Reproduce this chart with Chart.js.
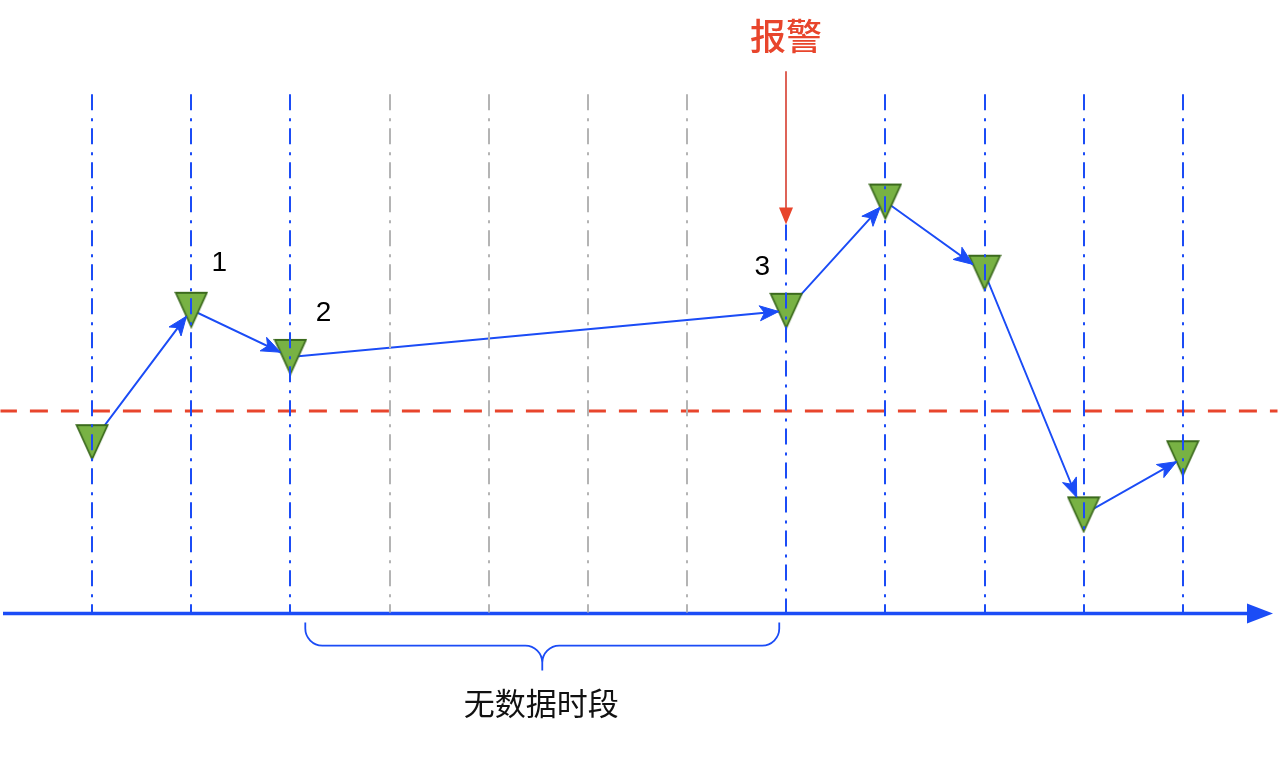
<!DOCTYPE html>
<html>
<head>
<meta charset="utf-8">
<script src="https://cdn.jsdelivr.net/npm/chart.js@4/dist/chart.umd.min.js"></script>
<style>
  html, body { margin: 0; padding: 0; background: #ffffff; }
  #wrap { width: 1278px; height: 766px; }
</style>
</head>
<body>
<div id="wrap"><canvas id="c" width="1278" height="766"></canvas></div>
<script>
// ---- data ----
const slots = [0, 1, 2, 3, 4, 5, 6, 7, 8, 9, 10, 11];
const slotHasData = [true, true, true, false, false, false, false, true, true, true, true, true];
const sampleSlots = [0, 1, 2, 7, 8, 9, 10, 11];
const sampleValues = [17.1, 30.3, 25.6, 30.2, 41.1, 34.0, 9.9, 15.5];
const sampleLabels = ['', '1', '2', '3', '', '', '', ''];
const thresholdValue = 20.2;
const alarmSlot = 7;
const gapRange = [2.15, 6.93];
const alarmText = '报警';
const gapText = '无数据时段';

// ---- styles ----
const BLUE = '#1b4cf6';
const GRAY = '#b4b4b4';
const RED = '#e8452c';
const GREEN_FILL = '#78b244';
const GREEN_STROKE = '#3b6a1d';

function makeTriangle() {
  const cv = document.createElement('canvas');
  cv.width = 34; cv.height = 38;
  const g = cv.getContext('2d');
  g.beginPath();
  g.moveTo(1.5, 2);
  g.lineTo(32.5, 2);
  g.lineTo(17, 36);
  g.closePath();
  g.fillStyle = GREEN_FILL;
  g.fill();
  g.lineWidth = 1.8;
  g.strokeStyle = GREEN_STROKE;
  g.lineJoin = 'miter';
  g.stroke();
  return cv;
}
const triImg = makeTriangle();

const points = sampleSlots.map((s, i) => ({ x: s, y: sampleValues[i] }));

function arrowHead(ctx, tx, ty, dx, dy, len, half, color) {
  const nx = -dy, ny = dx;
  const bx = tx - dx * len, by = ty - dy * len;
  const mx = tx - dx * len * 0.75, my = ty - dy * len * 0.75;
  ctx.beginPath();
  ctx.moveTo(tx, ty);
  ctx.lineTo(bx + nx * half, by + ny * half);
  ctx.lineTo(mx, my);
  ctx.lineTo(bx - nx * half, by - ny * half);
  ctx.closePath();
  ctx.fillStyle = color;
  ctx.fill();
  ctx.lineWidth = 1;
  ctx.strokeStyle = color;
  ctx.stroke();
}

// intersection of ray P - t*d with triangle around P (top half 17, half width 15.5)
function triHit(cx, cy, dx, dy) {
  const A = [cx - 15.5, cy - 17], B = [cx + 15.5, cy - 17], C = [cx, cy + 17];
  const edges = [[A, B], [B, C], [C, A]];
  let best = Infinity;
  const rx = -dx, ry = -dy;
  for (const [p, q] of edges) {
    const ex = q[0] - p[0], ey = q[1] - p[1];
    const den = rx * ey - ry * ex;
    if (Math.abs(den) < 1e-9) continue;
    const wx = p[0] - cx, wy = p[1] - cy;
    const t = (wx * ey - wy * ex) / den;
    const u = (wx * ry - wy * rx) / den;
    if (t > 0 && u >= -1e-6 && u <= 1 + 1e-6 && t < best) best = t;
  }
  return [cx + rx * best, cy + ry * best];
}

const decor = {
  id: 'decor',
  beforeDatasetsDraw(chart) {
    const ctx = chart.ctx;
    const ys = chart.scales.y;
    // axis line with arrow
    const y0 = ys.getPixelForValue(0);
    ctx.save();
    ctx.strokeStyle = BLUE;
    ctx.lineWidth = 3.5;
    ctx.beginPath();
    ctx.moveTo(3, y0);
    ctx.lineTo(1250, y0);
    ctx.stroke();
    ctx.beginPath();
    ctx.moveTo(1273, y0);
    ctx.lineTo(1247, y0 - 10);
    ctx.lineTo(1247, y0 + 10);
    ctx.closePath();
    ctx.fillStyle = BLUE;
    ctx.fill();
    ctx.restore();
  },
  afterDatasetsDraw(chart) {
    const ctx = chart.ctx;
    const xs = chart.scales.x, ys = chart.scales.y;
    const y0 = ys.getPixelForValue(0);
    ctx.save();
    // vertical slot lines (dash-dot)
    ctx.lineWidth = 2;
    ctx.setLineDash([16, 8, 3, 7]);
    slots.forEach((s, i) => {
      const px = Math.round(xs.getPixelForValue(s));
      const top = s === alarmSlot ? ys.getPixelForValue(38.8) : ys.getPixelForValue(51.8);
      ctx.strokeStyle = slotHasData[i] ? BLUE : GRAY;
      ctx.beginPath();
      ctx.moveTo(px, top);
      ctx.lineTo(px, y0 - 1);
      ctx.stroke();
    });
    ctx.setLineDash([]);

    // arrowheads on connectors
    const meta = chart.getDatasetMeta(1);
    for (let i = 1; i < meta.data.length; i++) {
      const a = meta.data[i - 1], b = meta.data[i];
      let dx = b.x - a.x, dy = b.y - a.y;
      const L = Math.hypot(dx, dy);
      dx /= L; dy /= L;
      const [tx, ty] = triHit(b.x, b.y, dx, dy);
      arrowHead(ctx, tx, ty, dx, dy, 19, 7.5, BLUE);
    }

    // sample labels
    const offs = { '1': [28, -47], '2': [33, -44], '3': [-24, -44] };
    ctx.fillStyle = '#000000';
    ctx.font = '28px "Liberation Sans", Arial, sans-serif';
    ctx.textAlign = 'center';
    ctx.textBaseline = 'middle';
    meta.data.forEach((el, i) => {
      const lab = sampleLabels[i];
      if (!lab) return;
      const o = offs[lab] || [0, -40];
      ctx.fillText(lab, el.x + o[0], el.y + o[1]);
    });

    // alarm arrow and text
    const ax = Math.round(xs.getPixelForValue(alarmSlot));
    const aTop = ys.getPixelForValue(54.1), aTip = ys.getPixelForValue(38.8);
    ctx.strokeStyle = '#d9483a';
    ctx.lineWidth = 1.7;
    ctx.beginPath();
    ctx.moveTo(ax, aTop);
    ctx.lineTo(ax, aTip - 12);
    ctx.stroke();
    ctx.beginPath();
    ctx.moveTo(ax, aTip);
    ctx.lineTo(ax - 7, aTip - 17);
    ctx.lineTo(ax + 7, aTip - 17);
    ctx.closePath();
    ctx.fillStyle = RED;
    ctx.fill();
    ctx.font = '500 36px "Noto Sans CJK SC", sans-serif';
    ctx.fillStyle = RED;
    ctx.textAlign = 'center';
    ctx.textBaseline = 'middle';
    ctx.fillText(alarmText, ax, ys.getPixelForValue(57.6));

    // brace under gap
    const L = xs.getPixelForValue(gapRange[0]);
    const R = xs.getPixelForValue(gapRange[1]);
    const M = (L + R) / 2;
    const top = y0 + 9, h = y0 + 32, tip = y0 + 57, r = 17;
    ctx.strokeStyle = BLUE;
    ctx.lineWidth = 1.8;
    ctx.beginPath();
    ctx.moveTo(L, top);
    ctx.arcTo(L, h, L + r, h, r);
    ctx.lineTo(M - r, h);
    ctx.arcTo(M, h, M, h + r, r);
    ctx.lineTo(M, tip);
    ctx.moveTo(M, h + r);
    ctx.arcTo(M, h, M + r, h, r);
    ctx.lineTo(R - r, h);
    ctx.arcTo(R, h, R, top, r);
    ctx.lineTo(R, top);
    ctx.stroke();

    ctx.font = '31px "Noto Sans CJK SC", sans-serif';
    ctx.fillStyle = '#111111';
    ctx.fillText(gapText, M - 1, y0 + 90);
    ctx.restore();
  }
};

new Chart(document.getElementById('c'), {
  type: 'line',
  data: {
    datasets: [
      {
        label: 'threshold',
        data: [{ x: -0.94, y: thresholdValue }, { x: 11.97, y: thresholdValue }],
        borderColor: RED,
        borderWidth: 3,
        borderDash: [18, 13],
        pointRadius: 0,
        fill: false
      },
      {
        label: 'samples',
        data: points,
        borderColor: BLUE,
        borderWidth: 1.9,
        tension: 0,
        fill: false,
        pointStyle: triImg,
        pointRadius: 0.5,
        pointBorderWidth: 0,
        pointHoverRadius: 0.5
      }
    ]
  },
  options: {
    responsive: false,
    animation: false,
    devicePixelRatio: 1,
    layout: { padding: 0 },
    events: [],
    scales: {
      x: { type: 'linear', min: -0.924, max: 11.955, display: false },
      y: { type: 'linear', min: -15.15, max: 61.15, display: false }
    },
    plugins: {
      legend: { display: false },
      tooltip: { enabled: false }
    }
  },
  plugins: [decor]
});
</script>
</body>
</html>
